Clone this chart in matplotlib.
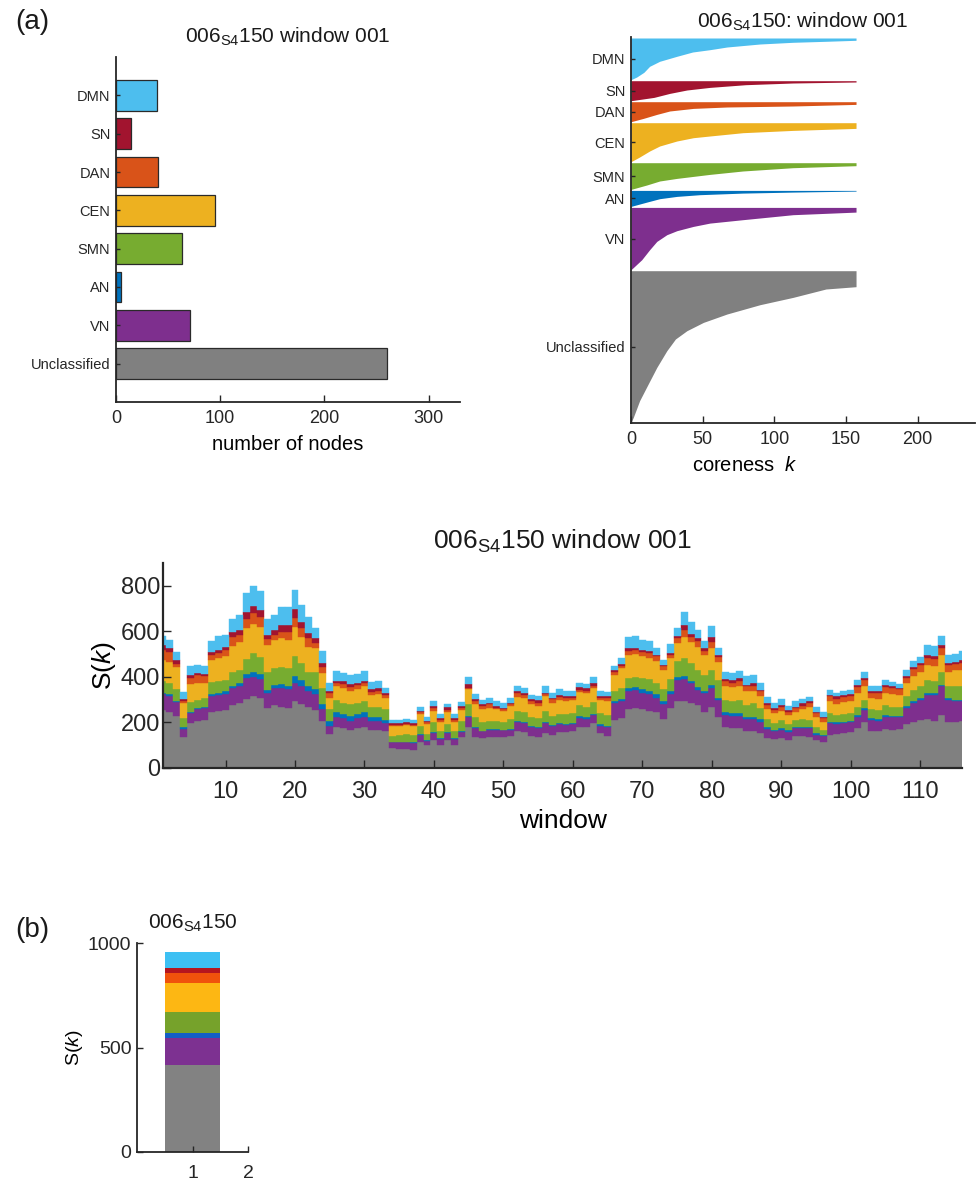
import numpy as np
import matplotlib
matplotlib.use('Agg')
import matplotlib.pyplot as plt

plt.rcParams['font.family'] = ['Liberation Sans', 'DejaVu Sans']
plt.rcParams['mathtext.fontset'] = 'custom'
plt.rcParams['mathtext.rm'] = 'Liberation Sans'
plt.rcParams['mathtext.it'] = 'Liberation Sans:italic'
plt.rcParams['mathtext.bf'] = 'Liberation Sans:bold'
plt.rcParams['axes.edgecolor'] = '#262626'
plt.rcParams['xtick.color'] = '#262626'
plt.rcParams['ytick.color'] = '#262626'
plt.rcParams['text.color'] = '#1a1a1a'

# ---------------- data ----------------
networks = ['DMN', 'SN', 'DAN', 'CEN', 'SMN', 'AN', 'VN', 'Unclassified']
node_counts = [39, 14, 40, 95, 63, 5, 71, 260]
colors = ['#4DBEEE', '#A2142F', '#D95319', '#EDB120', '#77AC30', '#0072BD', '#7E2F8E', '#808080']
colors_b = ['#3DC0F3', '#B5161F', '#F0520C', '#FDB713', '#76A22B', '#135FC6', '#7D3191', '#828282']

# coreness profiles (right edge k vs depth within each network block)
dmn_k = [157, 157, 136, 113, 90, 67, 55, 43, 32, 20, 13, 9, 4, 0]
dmn_d = [0, 2.3, 3.3, 4.3, 6, 9, 11.7, 14, 18.3, 23.3, 28.3, 34.3, 39, 41.7]
sn_k = [157, 157, 113, 80, 55, 39, 27, 16, 0]
sn_d = [0, 1.3, 2.3, 4, 6.7, 9.3, 12.7, 16.7, 20]
dan_k = [157, 157, 113, 67, 43.5, 27, 18, 8.6, 0]
dan_d = [0, 2.7, 4.3, 5.3, 6.7, 9.3, 12.7, 16.7, 20]
cen_k = [157, 157, 113, 78, 55, 43.5, 32, 20, 13, 6, 0]
cen_d = [0, 5.7, 7.7, 10, 13.3, 15, 18.3, 23.3, 28.3, 34.3, 39]
smn_k = [157, 157, 113, 78, 55, 32, 20, 11, 0]
smn_d = [0, 3, 5, 8.3, 11.7, 15.7, 18.3, 22.3, 26.7]
an_k = [157, 157, 113, 78, 48, 32, 20, 11, 0]
an_d = [0, 0.7, 1.7, 2.7, 4.3, 6, 8.3, 11.7, 16]
vn_k = [157, 157, 113, 78, 55, 43.5, 32, 25, 18, 13, 7.5, 0]
vn_d = [0, 4.7, 7.3, 12.3, 15.7, 19, 23.3, 27.3, 34, 42.3, 52.3, 62.3]
unc_k = [157, 157, 136, 113, 90, 67, 50.5, 39, 31, 25, 18, 12, 6, 1.6, 0]
unc_d = [0, 16, 18.3, 26.7, 34, 43.3, 51.7, 60, 68.3, 80, 96.7, 113.3, 130, 146.7, 151.7]

windows = np.arange(1, 117)
s_unclassified = [254, 245, 228, 138, 197, 205, 210, 248, 250, 255,
                  278, 285, 302, 314, 308, 265, 277, 270, 264, 295,
                  280, 266, 255, 206, 149, 178, 175, 167, 175, 181,
                  167, 167, 161, 88, 84, 84, 80, 113, 99, 125,
                  99, 125, 103, 135, 178, 135, 132, 135, 138, 135,
                  142, 164, 157, 142, 135, 152, 146, 157, 156, 161,
                  182, 180, 197, 153, 140, 210, 220, 258, 262, 258,
                  251, 244, 215, 265, 293, 294, 287, 275, 245, 270,
                  226, 182, 175, 175, 161, 161, 153, 131, 127, 131,
                  124, 139, 139, 136, 124, 112, 146, 150, 153, 156,
                  175, 200, 161, 161, 171, 168, 171, 194, 204, 212,
                  215, 207, 232, 204, 204, 205]
s_vn = [69, 73, 60, 34, 44, 53, 52, 70, 72, 71,
        72, 73, 92, 87, 82, 63, 73, 80, 83, 77,
        80, 70, 68, 54, 37, 44, 44, 40, 43, 41,
        40, 40, 35, 25, 29, 29, 30, 32, 21, 30,
        29, 27, 25, 22, 44, 40, 29, 33, 30, 30,
        26, 36, 40, 38, 41, 44, 40, 36, 34, 32,
        37, 36, 36, 31, 38, 75, 75, 80, 80, 73,
        73, 65, 65, 61, 92, 95, 85, 68, 83, 80,
        73, 52, 54, 54, 54, 54, 51, 40, 34, 37,
        35, 36, 36, 38, 22, 27, 51, 45, 44, 44,
        51, 55, 51, 46, 55, 54, 51, 69, 81, 88,
        107, 115, 126, 96, 88, 87]
s_an = [8, 8, 7, 8, 6, 7, 8, 7, 8, 10,
        11, 14, 19, 22, 23, 15, 15, 18, 11, 32,
        27, 22, 22, 23, 21, 22, 20, 22, 18, 22,
        15, 15, 14, 3, 3, 3, 3, 5, 2, 5,
        2, 6, 2, 7, 7, 6, 3, 3, 3, 3,
        3, 8, 7, 6, 5, 4, 4, 3, 4, 4,
        9, 9, 5, 9, 8, 7, 10, 12, 13, 14,
        14, 14, 14, 12, 14, 14, 12, 14, 8, 15,
        8, 10, 12, 12, 11, 11, 11, 11, 7, 7,
        6, 7, 7, 6, 7, 7, 7, 6, 7, 7,
        8, 8, 7, 9, 8, 7, 7, 9, 7, 7,
        8, 8, 7, 7, 8, 8]
s_smn = [53, 46, 50, 39, 41, 35, 37, 52, 50, 51,
         62, 59, 64, 81, 76, 80, 73, 77, 80, 88,
         73, 65, 75, 67, 51, 53, 48, 51, 48, 48,
         46, 46, 48, 26, 29, 34, 33, 36, 28, 40,
         34, 35, 34, 43, 51, 41, 36, 36, 36, 36,
         44, 43, 44, 39, 38, 51, 39, 40, 44, 46,
         50, 45, 50, 48, 48, 48, 45, 45, 45, 51,
         52, 51, 51, 51, 70, 80, 76, 73, 73, 66,
         80, 55, 51, 58, 51, 59, 48, 33, 29, 37,
         29, 30, 33, 32, 29, 22, 37, 33, 34, 34,
         36, 36, 39, 39, 43, 41, 41, 43, 51, 51,
         57, 50, 58, 51, 58, 58]
s_cen = [92, 95, 100, 66, 80, 75, 65, 97, 102, 106,
         113, 124, 136, 128, 131, 117, 124, 124, 124, 126,
         117, 110, 105, 67, 51, 63, 65, 58, 61, 68,
         52, 58, 48, 44, 41, 39, 38, 50, 43, 51,
         39, 55, 39, 47, 65, 58, 58, 58, 51, 47,
         58, 61, 61, 55, 54, 65, 58, 61, 54, 56,
         54, 58, 62, 58, 62, 68, 88, 100, 100, 94,
         94, 97, 87, 94, 80, 94, 95, 100, 89, 95,
         80, 59, 63, 61, 59, 55, 54, 43, 44, 40,
         40, 36, 43, 55, 44, 36, 51, 48, 50, 51,
         58, 59, 49, 49, 51, 53, 50, 59, 59, 65,
         66, 69, 73, 65, 73, 73]
s_dan = [44, 44, 12, 10, 29, 32, 33, 23, 22, 25,
         41, 29, 40, 50, 44, 25, 22, 30, 37, 39,
         36, 36, 25, 28, 21, 14, 15, 17, 19, 14,
         15, 14, 14, 4, 4, 4, 6, 8, 7, 14,
         9, 6, 7, 10, 8, 14, 15, 15, 7, 7,
         7, 19, 12, 14, 14, 7, 15, 15, 15, 8,
         11, 12, 11, 8, 11, 12, 9, 20, 18, 20,
         22, 19, 15, 15, 20, 29, 22, 27, 17, 29,
         19, 22, 20, 24, 22, 21, 19, 19, 14, 18,
         14, 15, 16, 18, 15, 15, 22, 22, 23, 22,
         27, 29, 24, 24, 27, 27, 25, 22, 32, 29,
         29, 28, 30, 30, 26, 32]
s_sn = [18, 15, 15, 7, 10, 8, 7, 14, 14, 15,
        22, 22, 33, 29, 29, 19, 22, 29, 29, 39,
        29, 25, 20, 18, 8, 10, 15, 12, 10, 10,
        10, 12, 8, 6, 7, 7, 6, 7, 8, 8,
        7, 12, 9, 8, 14, 8, 7, 7, 8, 7,
        7, 7, 10, 8, 10, 8, 7, 8, 10, 10,
        12, 10, 11, 10, 7, 10, 8, 10, 10, 6,
        7, 7, 7, 7, 12, 22, 13, 14, 12, 21,
        10, 10, 12, 10, 7, 11, 7, 8, 8, 7,
        7, 7, 11, 7, 7, 7, 7, 10, 10, 12,
        10, 7, 9, 8, 10, 8, 7, 10, 11, 10,
        14, 15, 14, 10, 10, 11]
s_dmn = [42, 36, 36, 33, 41, 37, 36, 46, 62, 51,
         56, 66, 81, 89, 84, 69, 66, 77, 77, 85,
         73, 67, 43, 50, 36, 43, 36, 43, 39, 41,
         32, 29, 24, 14, 15, 17, 14, 19, 17, 21,
         17, 17, 17, 18, 32, 24, 17, 22, 21, 22,
         19, 22, 21, 18, 19, 29, 22, 25, 19, 19,
         17, 18, 27, 19, 19, 20, 27, 50, 52, 47,
         45, 29, 22, 39, 32, 57, 50, 35, 32, 46,
         33, 33, 32, 32, 39, 37, 32, 26, 22, 25,
         18, 22, 17, 19, 18, 18, 22, 17, 19, 17,
         22, 26, 22, 22, 22, 19, 17, 24, 25, 26,
         44, 44, 40, 34, 32, 40]

# panel (b): total S(k) per network (DMN ... Unclassified)
b_values = [77, 24, 48, 136, 101, 24, 131, 416]

# ---------------- figure ----------------
W, H = 976, 1180
fig = plt.figure(figsize=(W / 100, H / 100), dpi=100)


def px_axes(left, top, right, bottom):
    return fig.add_axes([left / W, 1 - bottom / H, (right - left) / W, (bottom - top) / H])


def style(ax, lw=1.3):
    for s in ['top', 'right']:
        ax.spines[s].set_visible(False)
    for s in ['left', 'bottom']:
        ax.spines[s].set_linewidth(lw)
    ax.tick_params(direction='in', width=1.0)


title_sub = r'006$_{\mathrm{S4}}$150'

# --- top-left: number of nodes ---
ax1 = px_axes(116, 57, 460, 402)
style(ax1)
ypos = np.arange(1, len(networks) + 1)
ax1.barh(ypos, node_counts, height=0.8, color=colors, edgecolor='#2a2a2a', linewidth=0.9)
ax1.set_ylim(9, 0)
ax1.set_xlim(0, 330)
ax1.set_yticks(ypos)
ax1.set_yticklabels(networks, fontsize=10.5)
ax1.set_xticks([0, 100, 200, 300])
ax1.tick_params(axis='x', labelsize=13, length=5, pad=6)
ax1.tick_params(axis='y', length=3, pad=4)
ax1.set_xlabel('number of nodes', fontsize=14.5, labelpad=5.5)
ax1.set_title(title_sub + ' window 001', fontsize=15, pad=10)

# --- top-right: coreness profiles ---
ax2 = px_axes(631, 37, 975, 423)
style(ax2)
prof_k = [dmn_k, sn_k, dan_k, cen_k, smn_k, an_k, vn_k, unc_k]
prof_d = [dmn_d, sn_d, dan_d, cen_d, smn_d, an_d, vn_d, unc_d]
gap = 1.0
y0 = 1.0
centers = []
for k, d, c in zip(prof_k, prof_d, colors):
    d = np.asarray(d, float)
    ax2.fill_betweenx(y0 + d, 0, k, color=c, linewidth=0)
    centers.append(y0 + d[-1] / 2)
    y0 += d[-1] + gap
ax2.set_ylim(386, 0)
ax2.set_xlim(0, 240)
ax2.set_yticks(centers)
ax2.set_yticklabels(networks, fontsize=10.5)
ax2.set_xticks([0, 50, 100, 150, 200])
ax2.tick_params(axis='x', labelsize=13, length=5, pad=6)
ax2.tick_params(axis='y', length=3, pad=4)
ax2.set_xlabel(r'coreness  $\mathit{k}$', fontsize=14.5, labelpad=2)
ax2.xaxis.set_label_coords(0.33, -0.085)
ax2.set_title(title_sub + ': window 001', fontsize=15, pad=7)

# --- middle: S(k) per window ---
ax3 = px_axes(163, 563, 962, 768)
style(ax3, lw=1.6)
layers = [s_unclassified, s_vn, s_an, s_smn, s_cen, s_dan, s_sn, s_dmn]
layer_cols = colors[::-1]
bottom = np.zeros(len(windows))
for vals, c in zip(layers, layer_cols):
    vals = np.asarray(vals, float)
    ax3.bar(windows, vals, width=1.0, bottom=bottom, color=c, edgecolor=c, linewidth=0.3)
    bottom += vals
ax3.set_xlim(1, 116)
ax3.set_ylim(0, 900)
ax3.set_yticks([0, 200, 400, 600, 800])
ax3.set_xticks(np.arange(10, 111, 10))
ax3.tick_params(labelsize=17, length=6)
ax3.tick_params(axis='x', pad=9)
ax3.tick_params(axis='y', pad=2)
ax3.set_xlabel('window', fontsize=19, labelpad=5)
ax3.set_ylabel(r'S$(\mathit{k})$', fontsize=19, labelpad=2)
ax3.set_title(title_sub + ' window 001', fontsize=19, pad=10)

# --- bottom (b): total ---
ax4 = px_axes(137, 943, 248, 1152)
style(ax4, lw=1.3)
bb = 0.0
for v, c in zip(b_values[::-1], colors_b[::-1]):
    ax4.bar([1], [v], width=1.0, bottom=bb, color=c, linewidth=0)
    bb += v
ax4.set_xlim(0, 2)
ax4.set_ylim(0, 1000)
ax4.set_xticks([1, 2])
ax4.set_yticks([0, 500, 1000])
ax4.tick_params(labelsize=14, length=4)
ax4.tick_params(axis='x', pad=9)
ax4.tick_params(axis='y', pad=4)
ax4.set_ylabel(r'S$(\mathit{k})$', fontsize=14, labelpad=2)
ax4.set_title(title_sub, fontsize=15, pad=10)

fig.text(15 / W, 1 - 22 / H, '(a)', fontsize=20, va='center', ha='left')
fig.text(15 / W, 1 - 930 / H, '(b)', fontsize=20, va='center', ha='left')

fig.savefig('out.png', dpi=100)
